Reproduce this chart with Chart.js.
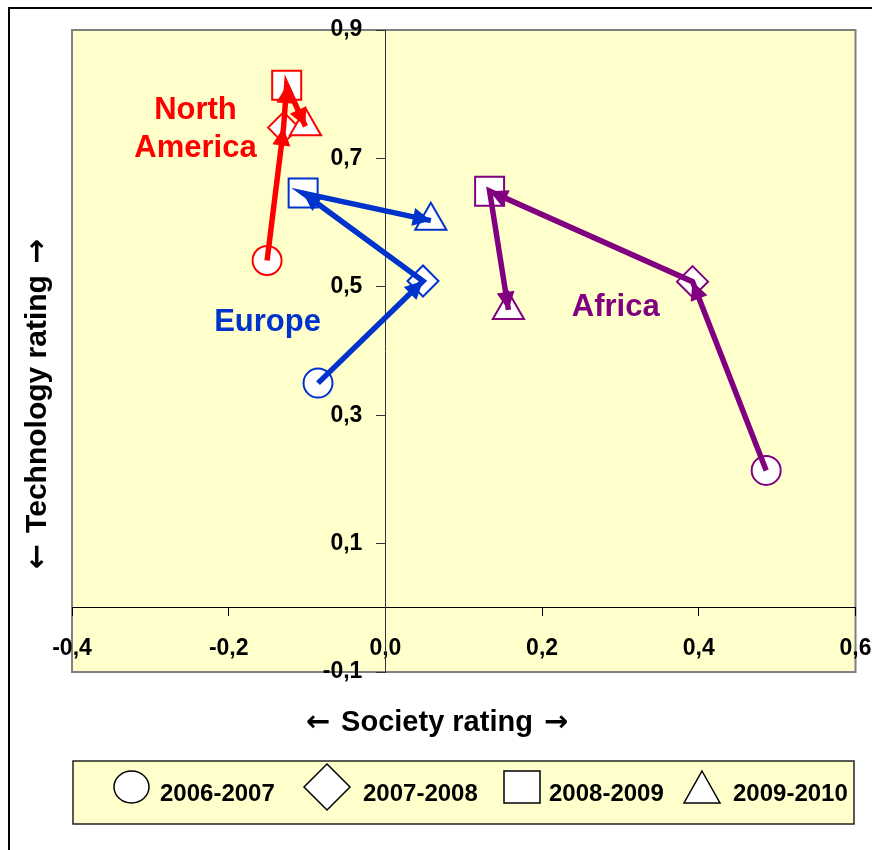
<!DOCTYPE html>
<html>
<head>
<meta charset="utf-8">
<title>Technology vs Society rating</title>
<script src="https://cdn.jsdelivr.net/npm/chart.js@4.4.0/dist/chart.umd.min.js"></script>
<style>
  html, body { margin: 0; background: #fff; overflow: hidden; }
  #wrap { width: 872px; height: 850px; overflow: hidden; }
</style>
</head>
<body>
<!-- the canvas is a little wider than the window: the origin axis keeps ~23px
     free on its right, this puts the plot edge where the picture has it -->
<div id="wrap"><canvas id="grafico" width="878" height="850"></canvas></div>
<script>
// values, one point per period
const periods = ['2006-2007', '2007-2008', '2008-2009', '2009-2010'];
const regions = ['North America', 'Europe', 'Africa'];

const naSociety = [-0.151, -0.130, -0.126, -0.102];
const naTechnology = [0.541, 0.748, 0.814, 0.750];
const euSociety = [-0.086, 0.048, -0.105, 0.058];
const euTechnology = [0.350, 0.509, 0.646, 0.603];
const afSociety = [0.486, 0.392, 0.133, 0.157];
const afTechnology = [0.214, 0.508, 0.649, 0.464];

const societyTicks = [-0.4, -0.2, 0.0, 0.2, 0.4, 0.6];
const technologyTicks = [-0.1, 0.1, 0.3, 0.5, 0.7, 0.9];

// styles
const FONT = "'Liberation Sans', Arial, sans-serif";
const ARROWS = "'DejaVu Sans', sans-serif";
const colores = ['#FF0000', '#0033CC', '#800080'];
const estilos = ['circle', 'rectRot', 'rect', 'triangle'];
const radios = [14.5, 15.5, 20.5, 18];

// where the region names sit (data units)
const notas = [
  { lines: ['North', 'America'], x: -0.2424, y: [0.774, 0.716], color: colores[0] },
  { lines: ['Europe'], x: -0.1504, y: [0.444], color: colores[1] },
  { lines: ['Africa'], x: 0.294, y: [0.4675], color: colores[2] }
];

const series = [
  { society: naSociety, technology: naTechnology },
  { society: euSociety, technology: euTechnology },
  { society: afSociety, technology: afTechnology }
];

const formato = v => Number(v).toFixed(1).replace('.', ',');

const lineas = series.map((s, k) => ({
  label: regions[k],
  data: s.society.map((x, i) => ({ x: x, y: s.technology[i] })),
  showLine: true,
  borderColor: colores[k],
  borderWidth: 5.5,
  borderCapStyle: 'butt',
  pointRadius: 0,
  order: 1
}));

const marcadores = series.map((s, k) => ({
  label: regions[k] + ' points',
  data: s.society.map((x, i) => ({ x: x, y: s.technology[i] })),
  showLine: false,
  pointStyle: estilos,
  pointRadius: radios,
  pointBorderWidth: 2,
  pointBorderColor: colores[k],
  pointBackgroundColor: '#FFFFFF',
  order: 2
}));

// frame + yellow plot area
const fondo = {
  id: 'fondo',
  beforeDraw(chart) {
    const { ctx, chartArea: a } = chart;
    ctx.save();
    ctx.strokeStyle = '#000';
    ctx.lineWidth = 2;
    ctx.strokeRect(9, 8, 900, 900);
    ctx.fillStyle = '#FFFFCC';
    ctx.fillRect(a.left, a.top, a.width, a.height);
    ctx.strokeStyle = '#808080';
    ctx.lineWidth = 2;
    ctx.strokeRect(a.left, a.top, a.width, a.height);
    ctx.restore();
  }
};

// arrow heads at the end of every segment
const flechas = {
  id: 'flechas',
  afterDatasetsDraw(chart) {
    const { ctx, scales: { x, y } } = chart;
    const largo = 18, ancho = 9;
    ctx.save();
    series.forEach((s, k) => {
      for (let i = 1; i < s.society.length; i++) {
        const x0 = x.getPixelForValue(s.society[i - 1]);
        const y0 = y.getPixelForValue(s.technology[i - 1]);
        const x1 = x.getPixelForValue(s.society[i]);
        const y1 = y.getPixelForValue(s.technology[i]);
        const ang = Math.atan2(y1 - y0, x1 - x0);
        const c = Math.cos(ang), sn = Math.sin(ang);
        ctx.fillStyle = colores[k];
        ctx.beginPath();
        ctx.moveTo(x1, y1);
        ctx.lineTo(x1 - largo * c + ancho * sn, y1 - largo * sn - ancho * c);
        ctx.lineTo(x1 - largo * c - ancho * sn, y1 - largo * sn + ancho * c);
        ctx.closePath();
        ctx.fill();
      }
    });
    ctx.restore();
  }
};

function dibujarMarca(ctx, tipo, cx, cy) {
  ctx.beginPath();
  if (tipo === 'circle') {
    ctx.ellipse(cx, cy, 17.5, 16, 0, 0, 2 * Math.PI);
  } else if (tipo === 'rectRot') {
    ctx.moveTo(cx, cy - 23);
    ctx.lineTo(cx + 23, cy);
    ctx.lineTo(cx, cy + 23);
    ctx.lineTo(cx - 23, cy);
    ctx.closePath();
  } else if (tipo === 'rect') {
    ctx.rect(cx - 18, cy - 16, 36, 32);
  } else {
    ctx.moveTo(cx, cy - 16);
    ctx.lineTo(cx + 18, cy + 16);
    ctx.lineTo(cx - 18, cy + 16);
    ctx.closePath();
  }
  ctx.fillStyle = '#FFFFFF';
  ctx.fill();
  ctx.strokeStyle = '#000';
  ctx.lineWidth = 1.5;
  ctx.stroke();
}

// title with heavy arrows on both sides, drawn along the current x direction
function tituloConFlechas(ctx, texto, size) {
  ctx.font = 'bold ' + size + 'px ' + FONT;
  const w = ctx.measureText(texto).width;
  ctx.fillText(texto, 0, 0);
  ctx.font = 'bold ' + size + 'px ' + ARROWS;
  const gap = 11 + ctx.measureText('\u2190').width / 2;
  ctx.fillText('\u2190', -w / 2 - gap, 0);
  ctx.fillText('\u2192', w / 2 + gap, 0);
}

// axis titles, region names and the legend box
const textos = {
  id: 'textos',
  afterDraw(chart) {
    const { ctx, scales: { x, y } } = chart;
    ctx.save();
    ctx.textAlign = 'center';
    ctx.textBaseline = 'middle';

    notas.forEach(n => {
      ctx.fillStyle = n.color;
      ctx.font = 'bold 31px ' + FONT;
      n.lines.forEach((t, i) => {
        ctx.fillText(t, x.getPixelForValue(n.x), y.getPixelForValue(n.y[i]));
      });
    });

    ctx.fillStyle = '#000';
    ctx.save();
    ctx.translate(437, 723);
    tituloConFlechas(ctx, 'Society rating', 29);
    ctx.restore();

    ctx.save();
    ctx.translate(38, 404);
    ctx.rotate(-Math.PI / 2);
    tituloConFlechas(ctx, 'Technology rating', 30);
    ctx.restore();

    // legend
    ctx.fillStyle = '#FFFFCC';
    ctx.fillRect(73, 761, 781, 63);
    ctx.strokeStyle = '#222';
    ctx.lineWidth = 1.5;
    ctx.strokeRect(73, 761, 781, 63);

    const marcaX = [131.5, 327, 522, 702];
    const textoX = [160, 363, 549, 733];
    ctx.textAlign = 'left';
    ctx.font = 'bold 24px ' + FONT;
    periods.forEach((p, i) => {
      dibujarMarca(ctx, estilos[i], marcaX[i], 787);
      ctx.fillStyle = '#000';
      ctx.fillText(p, textoX[i], 794);
    });
    ctx.restore();
  }
};

const fuenteTicks = { family: FONT, size: 23, weight: 'bold' };
// axes drawn through the origin must not push the plot area in
const sinRelleno = s => { s.paddingLeft = s.paddingRight = s.paddingTop = s.paddingBottom = 0; };

new Chart(document.getElementById('grafico'), {
  type: 'scatter',
  data: { datasets: lineas.concat(marcadores) },
  options: {
    responsive: false,
    animation: false,
    events: [],
    layout: { padding: { left: 72, top: 30, right: 0, bottom: 178 } },
    plugins: {
      legend: { display: false },
      tooltip: { enabled: false }
    },
    scales: {
      x: {
        type: 'linear',
        min: -0.4,
        max: 0.6,
        position: { y: 0 },
        afterBuildTicks: s => { s.ticks = societyTicks.map(v => ({ value: v })); },
        afterFit: sinRelleno,
        ticks: { callback: formato, font: fuenteTicks, color: '#000', padding: 19, maxRotation: 0, autoSkip: false },
        grid: { drawOnChartArea: false, tickLength: 8, color: '#000' },
        border: { color: '#000', width: 1 }
      },
      y: {
        type: 'linear',
        min: -0.1,
        max: 0.9,
        position: { x: 0 },
        afterBuildTicks: s => { s.ticks = technologyTicks.map(v => ({ value: v })); },
        afterFit: sinRelleno,
        // em space keeps the labels clear of the tick marks
        ticks: { callback: v => formato(v) + '\u2003', font: fuenteTicks, color: '#000', autoSkip: false },
        grid: { drawOnChartArea: false, tickLength: 9, color: '#333' },
        border: { color: '#333', width: 1 }
      }
    }
  },
  plugins: [fondo, flechas, textos]
});
</script>
</body>
</html>
